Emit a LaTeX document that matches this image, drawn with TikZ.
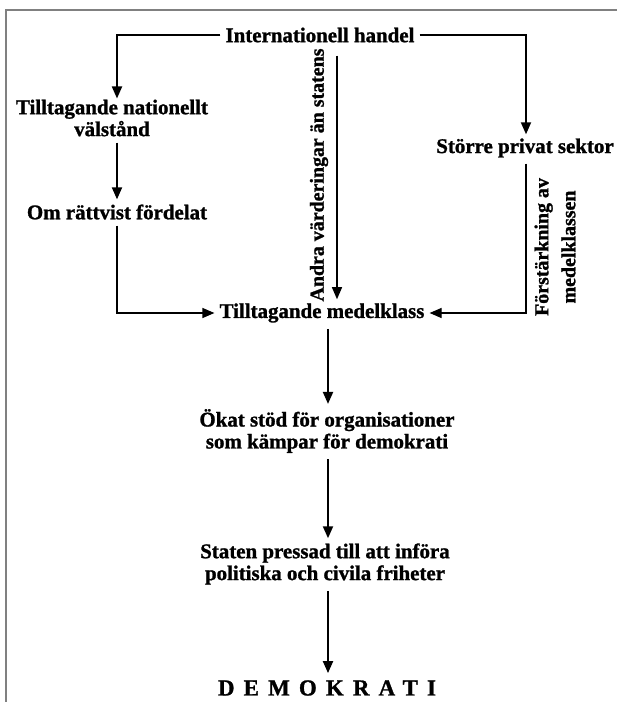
\documentclass[tikz,border=0pt]{standalone}
\usepackage{fontspec}
\setmainfont{Liberation Serif}[BoldFeatures={FakeBold=1.2}]
\usetikzlibrary{arrows.meta}
\begin{document}
\begin{tikzpicture}[x=1bp,y=-1bp,
  lbl/.style={font=\fontsize{21}{22}\selectfont\bfseries, inner sep=1bp, align=center},
  tip/.style={-{Triangle[width=10bp,length=12bp]}},
  elbow/.style={line width=1.8bp, tip},
  thin/.style={line width=1.2bp, tip},
  chain/.style={line width=2bp, tip, shorten <=5bp, shorten >=4bp},
]
\useasboundingbox (0,0) rectangle (617,702);
\fill[white] (0,0) rectangle (617,702);
\draw[gray, line width=2bp] (6,702) -- (6,10) -- (617,10);

\node[lbl] (inter) at (320,35) {Internationell handel};
\node[lbl] (tnv) at (112,118) {Tilltagande nationellt\\välstånd};
\node[lbl] (om) at (117,212) {Om rättvist fördelat};
\node[lbl] (tm) at (322,313) {Tilltagande medelklass};
\node[lbl] (storre) at (525,148) {Större privat sektor};
\node[lbl] (okat) at (327,431) {Ökat stöd för organisationer\\som kämpar för demokrati};
\node[lbl] (staten) at (325,564) {Staten pressad till att införa\\politiska och civila friheter};
\node[lbl, font=\fontsize{23}{24}\selectfont\bfseries\addfontfeature{LetterSpace=40}] (demo) at (327,688) {DEMOKRATI};
\node[lbl, rotate=90, font=\fontsize{20}{22}\selectfont\bfseries] (andra) at (319,175) {Andra värderingar än statens};
\node[lbl, rotate=90, font=\fontsize{20}{27}\selectfont\bfseries] (forst) at (555,247) {Förstärkning av\\medelklassen};

\coordinate (lx) at (117,0);
\coordinate (rx) at (526,0);
\coordinate (mx) at (337,0);
\coordinate (cx) at (328,0);

% from Internationell handel
\draw[elbow] ([xshift=-4bp]inter.west) -| (tnv.north -| lx);
\draw[elbow] ([xshift=4bp]inter.east) -| ([yshift=3bp]storre.north -| rx);
\draw[thin, shorten <=12bp, shorten >=3bp] (inter.south -| mx) -- (tm.north -| mx);

% left chain
\draw[chain] (tnv.south -| lx) -- (om.north -| lx);
\draw[thin, shorten <=5bp] (om.south -| lx) |- ([xshift=-4bp]tm.west);

% right
\draw[thin, shorten <=5bp] (storre.south -| rx) |- ([xshift=4bp]tm.east);

% main chain
\draw[chain] (tm.south -| cx) -- (okat.north -| cx);
\draw[chain] (okat.south -| cx) -- (staten.north -| cx);
\draw[chain, shorten >=6bp] (staten.south -| cx) -- (demo.north -| cx);
\end{tikzpicture}
\end{document}
